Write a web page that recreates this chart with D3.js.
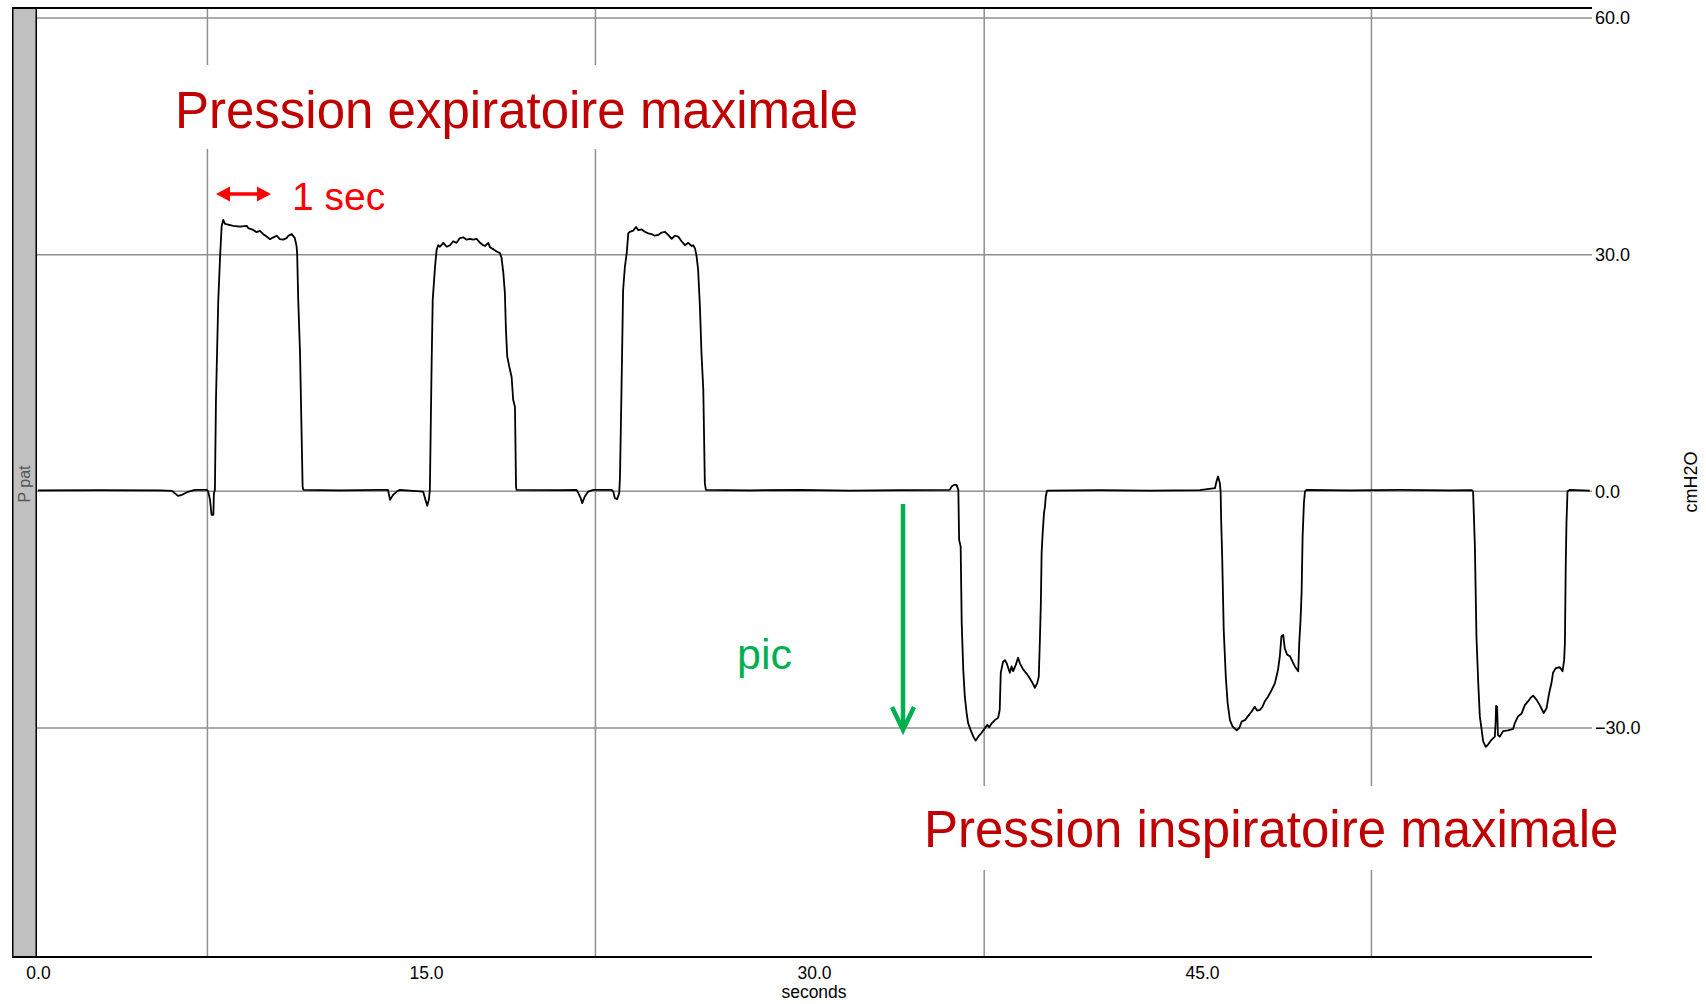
<!DOCTYPE html>
<html><head><meta charset="utf-8">
<script src="https://cdn.jsdelivr.net/npm/d3@7"></script>
<style>
body{margin:0;background:#fff;}
svg{display:block;}
text{font-family:"Liberation Sans",Arial,sans-serif;}
</style>
</head><body>
<svg id="c" width="1706" height="1004"></svg>
<script>
// ---- data ----
const xTicks = [0, 15, 30, 45];
const yTicks = [60, 30, 0, -30];
const gridTimes = [6.55, 21.55, 36.58, 51.55];
const xLabel = "seconds";
const yLabel = "cmH2O";
const channelLabel = "P pat";

const timeSec = [
 0,2.40,4.72,5.18,5.41,5.57,5.80,6.07,6.53,6.58,6.65,6.71,6.78,6.80,6.84,6.88,6.97,7.04,7.10,7.16,7.23,
 7.55,7.81,8.07,8.13,8.32,8.45,8.58,8.71,8.84,8.97,9.10,9.23,9.35,9.48,9.61,9.68,9.81,9.93,10.0,10.02,
 10.06,10.13,10.19,10.23,10.26,11.67,13.22,13.53,13.61,13.73,13.87,13.99,14.89,14.96,15.05,15.11,15.15,
 15.18,15.22,15.26,15.35,15.41,15.47,15.54,15.67,15.80,15.93,16.05,16.18,16.31,16.44,16.57,16.70,16.83,
 16.96,17.09,17.21,17.28,17.41,17.47,17.60,17.73,17.86,17.92,17.99,18.05,18.09,18.14,18.22,18.31,18.37,
 18.44,18.48,18.50,20.18,20.82,20.89,20.98,21.04,21.14,21.27,21.47,22.18,22.24,22.30,22.39,22.47,22.50,
 22.56,22.62,22.69,22.76,22.82,22.88,23.01,23.12,23.21,23.34,23.46,23.59,23.72,23.85,23.98,24.11,24.24,
 24.36,24.50,24.62,24.75,24.88,25.01,25.14,25.27,25.33,25.40,25.46,25.52,25.59,25.65,25.72,25.78,25.82,
 27.52,29.46,31.39,33.32,35.25,35.32,35.41,35.51,35.58,35.61,35.67,35.71,35.77,35.83,35.90,35.96,36.05,
 36.16,36.25,36.35,36.48,36.61,36.70,36.77,36.87,36.99,37.12,37.18,37.22,37.31,37.38,37.45,37.51,37.57,
 37.64,37.70,37.80,37.89,37.96,38.09,38.22,38.34,38.45,38.54,38.63,38.69,38.73,38.77,38.80,38.84,38.89,
 38.93,38.96,39.01,41.05,42.98,44.92,45.50,45.56,45.62,45.69,45.72,45.74,45.78,45.84,45.92,45.99,46.08,
 46.18,46.34,46.44,46.53,46.66,46.78,46.92,47.04,47.13,47.24,47.34,47.43,47.56,47.69,47.82,47.94,48.01,
 48.07,48.14,48.20,48.29,48.40,48.50,48.59,48.72,48.76,48.81,48.85,48.89,48.94,48.98,49.04,50.72,52.65,
 54.58,55.43,55.48,55.55,55.61,55.68,55.74,55.81,55.87,55.97,56.06,56.19,56.32,56.35,56.37,56.41,56.44,
 56.51,56.64,56.83,57.03,57.09,57.22,57.35,57.48,57.61,57.70,57.80,57.93,58.06,58.21,58.32,58.42,58.51,
 58.57,58.68,58.83,58.94,59.00,59.03,59.06,59.09,59.13,59.22,59.99
];
const pressure = [
 0.13,0.15,0.13,0.06,-0.57,-0.44,-0.06,0.19,0.19,-0.03,-1.08,-2.98,-2.98,-0.23,0.19,11.6,24.3,29.8,33.6,34.4,33.9,
 33.65,33.56,33.65,33.36,33.14,32.85,33.02,32.6,32.3,31.96,32.2,32.4,31.96,31.9,32.1,32.4,32.6,32.1,31.0,30.0,
 24.3,17.55,7.4,0.6,0.19,0.13,0.19,0.19,-1.08,-0.44,-0.03,0.19,-0.03,-0.86,-1.84,-1.08,0.19,
 7.4,16.7,24.3,28.5,30.6,31.2,31.0,31.5,31.0,31.2,31.7,31.5,32.1,32.2,31.9,32.0,31.9,
 32.0,31.5,31.2,31.1,31.5,30.95,30.7,30.4,30.2,29.6,27.7,25.1,20.5,17.1,15.8,14.5,11.6,
 10.7,0.6,0.19,0.15,0.19,-0.23,-0.86,-1.5,-0.65,-0.03,0.19,0.19,-0.03,-0.86,-0.99,-0.23,1.88,
 13.3,25.5,28.5,30.2,32.7,32.9,33.05,33.5,33.1,33.2,32.9,32.7,32.6,32.4,32.5,32.8,32.9,
 32.5,32.0,32.4,32.3,31.7,31.2,31.5,31.1,31.2,30.8,29.8,28.1,23.4,17.5,12.9,1.04,0.19,
 0.13,0.19,0.1,0.15,0.19,0.6,0.82,0.82,0.19,-6.15,-7.0,-16.7,-22.6,-26.0,-28.1,-29.4,-30.2,
 -31.1,-31.6,-31.1,-30.6,-30.0,-29.6,-29.9,-29.4,-29.0,-28.7,-27.7,-23.0,-21.6,-21.4,-21.8,-22.4,-23.0,
 -22.2,-22.8,-22.0,-21.1,-21.8,-22.6,-23.1,-23.7,-24.3,-24.9,-24.3,-23.5,-19.2,-14.2,-7.8,-5.3,-2.8,
 -1.9,-0.66,0.1,0.15,0.1,0.15,0.4,1.24,1.88,1.04,-0.03,-3.6,-8.3,-17.6,-23.5,-26.8,-29.0,
 -29.8,-30.3,-30.0,-29.2,-29.0,-28.5,-27.9,-27.3,-27.8,-27.7,-27.3,-26.6,-26.0,-25.2,-24.3,-22.6,-20.9,
 -18.4,-18.2,-19.9,-20.7,-20.9,-21.6,-22.2,-22.8,-19.2,-16.3,-12.9,-5.7,-1.5,-0.03,0.19,0.13,0.19,
 0.13,0.15,-0.03,-7.0,-18.4,-24.3,-28.5,-30.2,-31.7,-32.4,-32.1,-31.5,-31.1,-29.4,-27.2,-27.3,-30.9,
 -31.1,-30.4,-30.3,-30.1,-29.4,-28.5,-28.2,-27.1,-26.6,-26.2,-25.9,-26.4,-27.1,-28.1,-27.5,-25.6,-24.3,
 -23.0,-22.4,-22.3,-22.8,-21.4,-19.2,-9.9,-4.0,-0.03,0.19,0.1
];

// ---- chart ----
const svg = d3.select("#c");
const plotTop = 8, plotBottom = 957, plotLeft = 36, plotRight = 1592;
const x = d3.scaleLinear().domain([0, 60]).range([38, 1590]);
const y = d3.scaleLinear().domain([-30, 60]).range([728, 18]);
const gridColor = "#8f8f8f";

// horizontal gridlines
svg.append("g").selectAll("line").data(yTicks).join("line")
  .attr("x1", plotLeft).attr("x2", plotRight)
  .attr("y1", d => y(d)).attr("y2", d => y(d))
  .attr("stroke", gridColor).attr("stroke-width", 1.5);

// vertical gridlines
svg.append("g").selectAll("line").data(gridTimes).join("line")
  .attr("x1", d => x(d)).attr("x2", d => x(d))
  .attr("y1", plotTop).attr("y2", plotBottom)
  .attr("stroke", gridColor).attr("stroke-width", 1.5);

// text boxes (white background)
svg.append("rect").attr("x", 165).attr("y", 65).attr("width", 705).attr("height", 84).attr("fill", "#fff");
svg.append("rect").attr("x", 915).attr("y", 786).attr("width", 720).attr("height", 84).attr("fill", "#fff");

// left channel bar
svg.append("rect").attr("x", 12.75).attr("y", plotTop).attr("width", 23.5).attr("height", plotBottom - plotTop)
  .attr("fill", "#c0c0c0").attr("stroke", "#000").attr("stroke-width", 1.5);
svg.append("text").attr("transform", "translate(30,484) rotate(-90)")
  .attr("text-anchor", "middle").attr("font-size", 16).attr("fill", "#555").text(channelLabel);

// top border
svg.append("line").attr("x1", 12).attr("x2", plotRight).attr("y1", plotTop).attr("y2", plotTop)
  .attr("stroke", "#000").attr("stroke-width", 2);

// trace
const pts = timeSec.map((t, i) => [t, pressure[i]]);
svg.append("path").datum(pts)
  .attr("d", d3.line().x(d => x(d[0])).y(d => y(d[1])))
  .attr("fill", "none").attr("stroke", "#000").attr("stroke-width", 1.8).attr("stroke-linejoin", "round");

// bottom axis
const gx = svg.append("g").attr("transform", `translate(0,${plotBottom})`)
  .call(d3.axisBottom(x).tickValues(xTicks).tickSize(0).tickPadding(10).tickFormat(d3.format(".1f")));
gx.select(".domain").remove();
gx.selectAll("text").attr("font-size", 17.5).attr("fill", "#000")
  .attr("font-family", '"Liberation Sans",Arial,sans-serif');
svg.append("line").attr("x1", 12).attr("x2", plotRight).attr("y1", plotBottom).attr("y2", plotBottom)
  .attr("stroke", "#000").attr("stroke-width", 2);
svg.append("text").attr("x", (x.range()[0] + x.range()[1]) / 2).attr("y", 998)
  .attr("text-anchor", "middle").attr("font-size", 17.5).attr("fill", "#000").text(xLabel);

// right axis
const gy = svg.append("g").attr("transform", `translate(${plotRight},0)`)
  .call(d3.axisRight(y).tickValues(yTicks).tickSize(0).tickPadding(3).tickFormat(d3.format(".1f")));
gy.select(".domain").remove();
gy.selectAll("text").attr("font-size", 18).attr("fill", "#000")
  .attr("font-family", '"Liberation Sans",Arial,sans-serif');
svg.append("text").attr("transform", "translate(1697,482) rotate(-90)")
  .attr("text-anchor", "middle").attr("font-size", 18).attr("fill", "#000").text(yLabel);

// annotations
svg.append("text").attr("x", 175).attr("y", 128).attr("font-size", 51).attr("fill", "#c00000")
  .text("Pression expiratoire maximale");
svg.append("text").attr("x", 924).attr("y", 847).attr("font-size", 51).attr("fill", "#c00000")
  .text("Pression inspiratoire maximale");
svg.append("text").attr("x", 292).attr("y", 210).attr("font-size", 39).attr("fill", "#ff0000").text("1 sec");
svg.append("path")
  .attr("d", "M216,194 L230,186.5 L230,192.2 L257,192.2 L257,186.5 L271,194 L257,201.5 L257,195.8 L230,195.8 L230,201.5 Z")
  .attr("fill", "#ff0000");
svg.append("text").attr("x", 737).attr("y", 669).attr("font-size", 43).attr("fill", "#00b050").text("pic");
svg.append("line").attr("x1", 903).attr("x2", 903).attr("y1", 504).attr("y2", 729)
  .attr("stroke", "#00b050").attr("stroke-width", 4.5);
svg.append("path").attr("d", "M892,707 L903,730 L914,707")
  .attr("fill", "none").attr("stroke", "#00b050").attr("stroke-width", 4.5).attr("stroke-linejoin", "miter");
</script>
</body></html>
